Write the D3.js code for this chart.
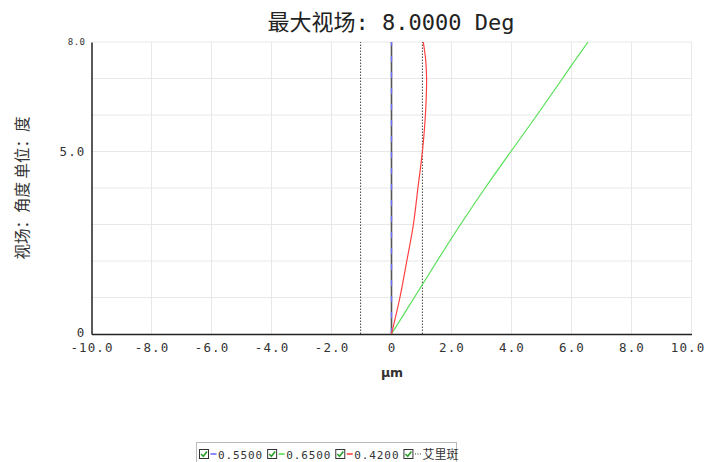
<!DOCTYPE html>
<html>
<head>
<meta charset="utf-8">
<script src="https://cdn.jsdelivr.net/npm/d3@7"></script>
<style>
  html, body { margin: 0; padding: 0; background: #fff; }
  svg { display: block; }
</style>
</head>
<body>
<svg id="chart" width="705" height="462"></svg>
<script>
// Field (degrees) vs. lateral color offset (µm)
const fieldDeg = [0, 1, 2, 3, 4, 5, 6, 7, 7.5, 8];
const wl0550 = [0, 0, 0, 0, 0, 0, 0, 0, 0, 0];
const wl0650 = [0, 0.76, 1.52, 2.30, 3.12, 3.98, 4.85, 5.70, 6.12, 6.55];
const wl0420 = [0, 0.28, 0.51, 0.73, 0.88, 1.03, 1.13, 1.17, 1.14, 1.06];
const airyRadius = 1.03;

const xTicks = [-10, -8, -6, -4, -2, 0, 2, 4, 6, 8, 10];
const xTickLabels = ["-10.0", "-8.0", "-6.0", "-4.0", "-2.0", "0", "2.0", "4.0", "6.0", "8.0", "10.0"];
const yGrid = [1, 2, 3, 4, 5, 6, 7, 8];
const yTicks = [0, 5, 8];
const yTickLabels = ["0", "5.0", "8.0"];

const legendItems = [
  { label: "0.5500", color: "#6b6bff", dash: null },
  { label: "0.6500", color: "#55e055", dash: null },
  { label: "0.4200", color: "#ff4040", dash: null },
  { label: "艾里斑", color: "#777", dash: "1,1.5" }
];

const svg = d3.select("#chart");
const monoFont = "'DejaVu Sans Mono', 'Noto Sans CJK SC', monospace";
const cjkFont = "'Noto Sans CJK SC', 'DejaVu Sans', sans-serif";

const x = d3.scaleLinear().domain([-10, 10]).range([91.5, 691.5]);
const y = d3.scaleLinear().domain([0, 8]).range([334, 42]);

// grid
const grid = svg.append("g");
grid.selectAll("line.v").data(xTicks.filter(d => d !== 0 && d !== -10)).join("line")
  .attr("x1", d => x(d)).attr("x2", d => x(d))
  .attr("y1", y(0)).attr("y2", y(8))
  .attr("stroke", "#e8e8e8").attr("stroke-width", 1);
grid.selectAll("line.h").data(yGrid).join("line")
  .attr("x1", x(-10)).attr("x2", x(10))
  .attr("y1", d => y(d)).attr("y2", d => y(d))
  .attr("stroke", "#e8e8e8").attr("stroke-width", 1);

// axes
const xAxis = d3.axisBottom(x).tickValues(xTicks)
  .tickFormat((d, i) => xTickLabels[i]).tickSize(0).tickPadding(9);
const gx = svg.append("g").attr("transform", `translate(0,${y(0)})`).call(xAxis);
gx.select(".domain").attr("stroke", "#222").attr("stroke-width", 1.5);
gx.selectAll("text").attr("font-family", monoFont).attr("font-size", 12.5)
  .attr("letter-spacing", 1.1).attr("fill", "#333")
  .attr("dx", d => d === 10 ? -4 : 0);

const yAxis = d3.axisLeft(y).tickValues(yTicks)
  .tickFormat((d, i) => yTickLabels[i]).tickSize(0).tickPadding(6);
const gy = svg.append("g").attr("transform", `translate(${x(-10)},0)`).call(yAxis);
gy.select(".domain").attr("stroke", "#222").attr("stroke-width", 1.5);
gy.selectAll("text").attr("font-family", monoFont).attr("font-size", d => d === 8 ? 9 : 12.5)
  .attr("letter-spacing", d => d === 8 ? 0.5 : 1.1).attr("fill", "#333")
  .attr("dy", d => d === 0 ? "0.2em" : "0.32em");

// Airy disk bounds
svg.selectAll("line.airy").data([-airyRadius, airyRadius]).join("line")
  .attr("x1", d => x(d)).attr("x2", d => x(d))
  .attr("y1", y(0)).attr("y2", y(8))
  .attr("stroke", "#444").attr("stroke-width", 1).attr("stroke-dasharray", "1.5,1.5");

// zero reference line
svg.append("line")
  .attr("x1", x(0)).attr("x2", x(0)).attr("y1", y(0)).attr("y2", y(8))
  .attr("stroke", "#555").attr("stroke-width", 1.6);

const line = vals => d3.line()
  .x((d, i) => x(vals[i])).y(d => y(d))
  .curve(d3.curveCatmullRom.alpha(0.5))(fieldDeg);

svg.append("path").attr("d", line(wl0550)).attr("fill", "none")
  .attr("stroke", "#6b6bff").attr("stroke-width", 1.3).attr("stroke-dasharray", "6,10");
svg.append("path").attr("d", line(wl0650)).attr("fill", "none")
  .attr("stroke", "#55e055").attr("stroke-width", 1.2);
svg.append("path").attr("d", line(wl0420)).attr("fill", "none")
  .attr("stroke", "#ff4040").attr("stroke-width", 1.2);

// title
svg.append("text").attr("x", 391).attr("y", 30).attr("text-anchor", "middle")
  .attr("font-family", monoFont).attr("font-size", 22).attr("fill", "#222")
  .text("最大视场: 8.0000 Deg");

// axis titles
svg.append("text").attr("x", 392).attr("y", 377).attr("text-anchor", "middle")
  .attr("font-family", "'DejaVu Sans', sans-serif").attr("font-size", 12.5).attr("font-weight", "bold")
  .attr("fill", "#333").text("µm");
svg.append("text").attr("transform", "translate(28,188) rotate(-90)").attr("text-anchor", "middle")
  .attr("font-family", cjkFont).attr("font-size", 15.5).attr("fill", "#333")
  .text("视场：角度 单位：度");

// legend
const lg = svg.append("g");
lg.append("rect").attr("x", 196.5).attr("y", 442.5).attr("width", 260).attr("height", 24)
  .attr("fill", "#fff").attr("stroke", "#bbb");
let cx = 199;
legendItems.forEach(item => {
  const g = lg.append("g").attr("transform", `translate(${cx},449)`);
  g.append("rect").attr("x", 0.5).attr("y", 0.5).attr("width", 9).attr("height", 9)
    .attr("fill", "#fff").attr("stroke", "#333").attr("stroke-width", 1);
  g.append("path").attr("d", "M2,5 L4.3,7.3 L8,2.5").attr("fill", "none")
    .attr("stroke", "#2aa02a").attr("stroke-width", 1.6);
  g.append("line").attr("x1", 11.5).attr("x2", 17.5).attr("y1", 5).attr("y2", 5)
    .attr("stroke", item.color).attr("stroke-width", 1.6)
    .attr("stroke-dasharray", item.dash);
  const isCjk = /[\u4e00-\u9fff]/.test(item.label);
  const t = g.append("text").attr("x", 19).attr("y", 9.5)
    .attr("font-family", isCjk ? cjkFont : monoFont)
    .attr("font-size", isCjk ? 12 : 11)
    .attr("letter-spacing", isCjk ? 0 : 0.9)
    .attr("fill", "#333").text(item.label);
  cx += 19 + t.node().getComputedTextLength() + 4;
});
</script>
</body>
</html>
